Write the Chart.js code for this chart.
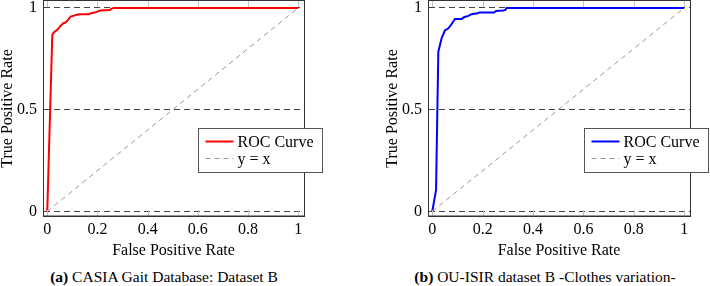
<!DOCTYPE html>
<html>
<head>
<meta charset="utf-8">
<script src="https://cdn.jsdelivr.net/npm/chart.js@4/dist/chart.umd.min.js"></script>
<style>
  body { margin: 0; background: #fff; width: 710px; height: 286px; position: relative; overflow: hidden; }
  canvas { position: absolute; top: 0; }
  .cap { position: absolute; top: 268px; font-family: 'Liberation Serif', 'Times New Roman', serif; font-size: 15.5px; color: #000; white-space: nowrap; text-align: center; }
</style>
</head>
<body>
<canvas id="rocA" width="335" height="262" style="left:0px"></canvas>
<canvas id="rocB" width="325" height="262" style="left:385px"></canvas>
<div class="cap" style="left:14px;width:300px"><b>(a)</b> CASIA Gait Database: Dataset B</div>
<div class="cap" style="left:395px;width:300px"><b>(b)</b> OU-ISIR dataset B -Clothes variation-</div>
<script>
// values
var xTicks = [0, 0.2, 0.4, 0.6, 0.8, 1];
var yTicks = [0, 0.5, 1];

var casiaFpr = [0, 0.02, 0.026, 0.042, 0.053, 0.064, 0.073, 0.084, 0.093, 0.106, 0.117, 0.130, 0.166, 0.175, 0.188, 0.199, 0.21, 0.25, 0.255, 0.265, 1];
var casiaTpr = [0, 0.867, 0.879, 0.895, 0.912, 0.925, 0.928, 0.944, 0.957, 0.962, 0.966, 0.969, 0.969, 0.974, 0.977, 0.982, 0.987, 0.990, 0.995, 1, 1];

var ouFpr = [0, 0.015, 0.024, 0.037, 0.050, 0.064, 0.077, 0.090, 0.117, 0.126, 0.143, 0.156, 0.179, 0.187, 0.245, 0.253, 0.282, 0.29, 0.295, 1];
var ouTpr = [0, 0.105, 0.785, 0.851, 0.889, 0.900, 0.921, 0.946, 0.946, 0.954, 0.961, 0.969, 0.974, 0.977, 0.977, 0.985, 0.987, 0.99, 1, 1];

var diagX = [0, 1];
var diagY = [0, 1];

Chart.defaults.font.family = "'Liberation Serif', 'Times New Roman', serif";
Chart.defaults.font.size = 16;
Chart.defaults.color = '#000';

function toPoints(xs, ys) {
  var pts = [];
  for (var i = 0; i < xs.length; i++) {
    pts.push({x: xs[i], y: ys[i]});
  }
  return pts;
}

// box round the plot, little inner ticks, and the legend
var framePlugin = {
  id: 'frame',
  afterDatasetsDraw: function(chart) {
    var ctx = chart.ctx;
    var a = chart.chartArea;
    var xs = chart.scales.x;
    ctx.save();
    ctx.strokeStyle = '#c4c4c4';
    ctx.lineWidth = 1;
    xTicks.forEach(function(v) {
      var px = Math.round(xs.getPixelForValue(v)) + 0.5;
      ctx.beginPath();
      ctx.moveTo(px, a.top); ctx.lineTo(px, a.top + 6);
      ctx.moveTo(px, a.bottom); ctx.lineTo(px, a.bottom - 6);
      ctx.stroke();
    });
    ctx.strokeStyle = '#333';
    ctx.strokeRect(Math.round(a.left) + 0.5, Math.round(a.top) - 0.5, Math.round(a.right - a.left), Math.round(a.bottom - a.top) + 0.5);

    // legend
    var bx = Math.round(a.right) - 105.5, by = 128.5, bw = 124, bh = 44;
    ctx.fillStyle = '#fff';
    ctx.fillRect(bx, by, bw, bh);
    ctx.strokeStyle = '#555';
    ctx.strokeRect(bx, by, bw, bh);
    var ds = chart.data.datasets;
    for (var i = 0; i < ds.length; i++) {
      var ly = by + 13 + i * 17;
      ctx.beginPath();
      ctx.strokeStyle = ds[i].borderColor;
      ctx.lineWidth = ds[i].borderWidth;
      ctx.setLineDash(ds[i].borderDash || []);
      ctx.moveTo(bx + 7, ly); ctx.lineTo(bx + 35, ly);
      ctx.stroke();
      ctx.setLineDash([]);
      ctx.fillStyle = '#000';
      ctx.font = "16px 'Liberation Serif', serif";
      ctx.textBaseline = 'middle';
      ctx.fillText(ds[i].label, bx + 39, ly + 1);
    }
    ctx.restore();
  }
};

function drawRoc(id, fpr, tpr, color, padRight) {
  var ctx = document.getElementById(id).getContext('2d');
  return new Chart(ctx, {
    type: 'scatter',
    data: {
      datasets: [{
        label: 'ROC Curve',
        data: toPoints(fpr, tpr),
        showLine: true,
        borderColor: color,
        borderWidth: 2,
        pointRadius: 0,
        tension: 0
      }, {
        label: 'y = x',
        data: toPoints(diagX, diagY),
        showLine: true,
        borderColor: '#999',
        borderWidth: 1,
        borderDash: [5, 4],
        pointRadius: 0
      }]
    },
    options: {
      responsive: false,
      animation: false,
      layout: { padding: { top: 1, right: padRight, left: 0, bottom: 0 } },
      plugins: { legend: { display: false }, tooltip: { enabled: false } },
      scales: {
        x: {
          type: 'linear',
          min: -0.017,
          max: 1.023,
          afterBuildTicks: function(s) { s.ticks = xTicks.map(function(v) { return {value: v}; }); },
          afterFit: function(s) { s.height = 46; s.paddingLeft = 0; s.paddingRight = 0; },
          grid: { display: false, drawTicks: false },
          border: { display: true, color: '#333' },
          ticks: { padding: 4, maxRotation: 0, callback: function(v) { return String(v); } },
          title: { display: true, text: 'False Positive Rate', padding: { top: 0, bottom: 2 } }
        },
        y: {
          type: 'linear',
          min: -0.023,
          max: 1.034,
          afterBuildTicks: function(s) { s.ticks = yTicks.map(function(v) { return {value: v}; }); },
          afterFit: function(s) { s.width = 43; s.paddingTop = 0; s.paddingBottom = 0; },
          grid: { color: '#444', drawTicks: false, lineWidth: 1 },
          border: { display: true, color: '#333', dash: [6, 4] },
          ticks: { padding: 6, callback: function(v) { return String(v); } },
          title: { display: true, text: 'True Positive Rate', padding: 0, font: { size: 16, lineHeight: 1 } }
        }
      }
    },
    plugins: [framePlugin]
  });
}

drawRoc('rocA', casiaFpr, casiaTpr, '#ff0000', 31);
drawRoc('rocB', ouFpr, ouTpr, '#0000ff', 20);
</script>
</body>
</html>
